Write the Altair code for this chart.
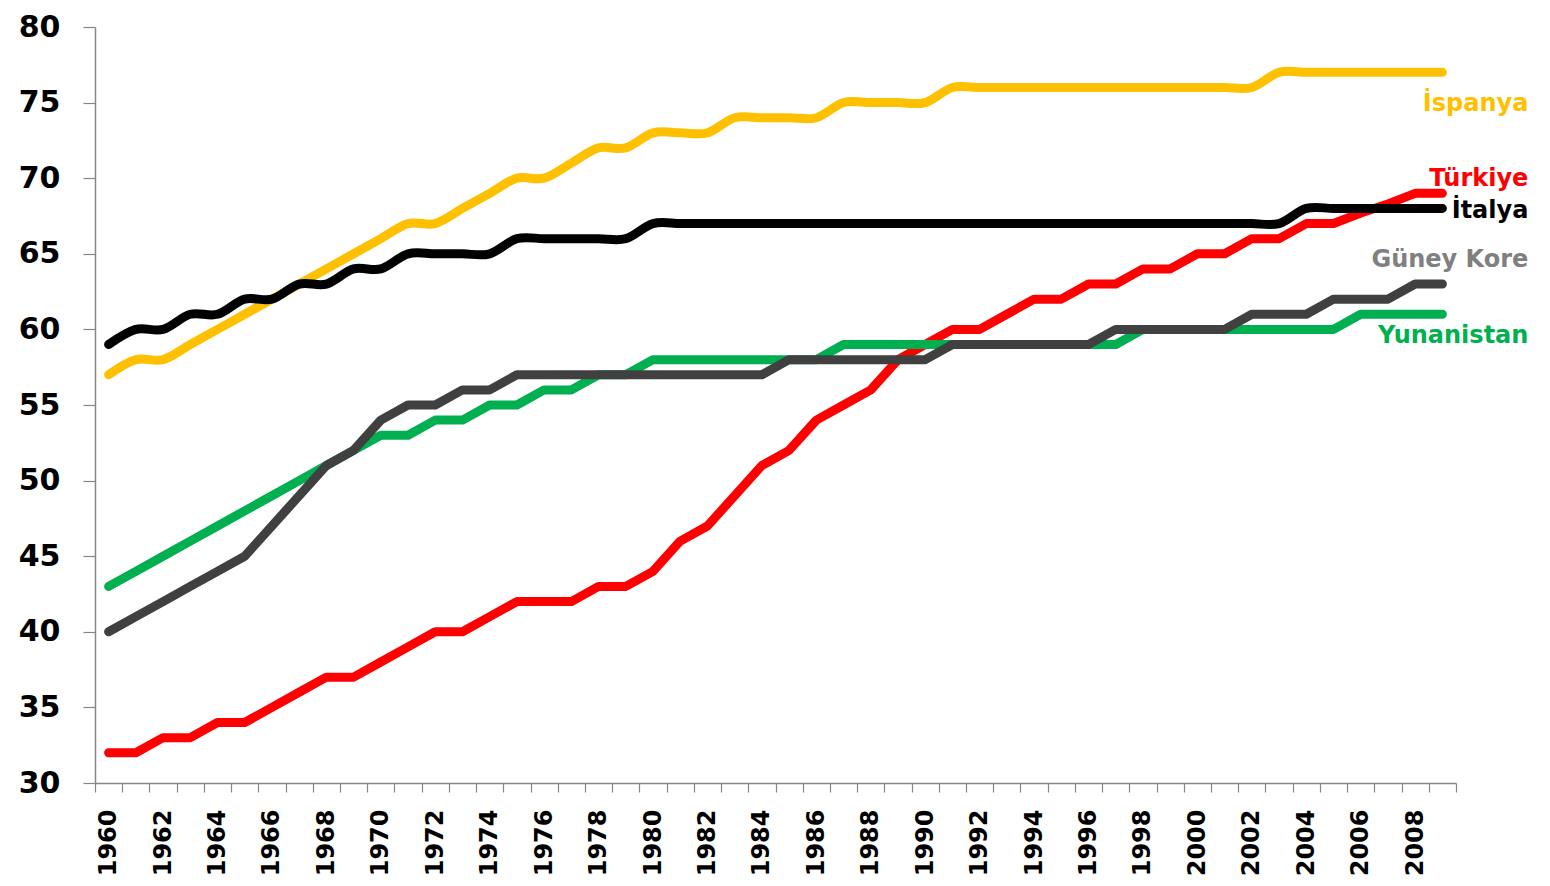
import altair as alt
import pandas as pd

years = list(range(1960, 2010))

turkiye = [32, 32, 33, 33, 34, 34, 35, 36, 37, 37,
           38, 39, 40, 40, 41, 42, 42, 42, 43, 43,
           44, 46, 47, 49, 51, 52, 54, 55, 56, 58,
           59, 60, 60, 61, 62, 62, 63, 63, 64, 64,
           65, 65, 66, 66, 67, 67, 67.7, 68.3, 69, 69]
yunanistan = [43, 44, 45, 46, 47, 48, 49, 50, 51, 52,
              53, 53, 54, 54, 55, 55, 56, 56, 57, 57,
              58, 58, 58, 58, 58, 58, 58, 59, 59, 59,
              59, 59, 59, 59, 59, 59, 59, 59, 60, 60,
              60, 60, 60, 60, 60, 60, 61, 61, 61, 61]
guney_kore = [40, 41, 42, 43, 44, 45, 47, 49, 51, 52,
              54, 55, 55, 56, 56, 57, 57, 57, 57, 57,
              57, 57, 57, 57, 57, 58, 58, 58, 58, 58,
              58, 59, 59, 59, 59, 59, 59, 60, 60, 60,
              60, 60, 61, 61, 61, 62, 62, 62, 63, 63]
ispanya = [57, 58, 58, 59, 60, 61, 62, 63, 64, 65,
           66, 67, 67, 68, 69, 70, 70, 71, 72, 72,
           73, 73, 73, 74, 74, 74, 74, 75, 75, 75,
           75, 76, 76, 76, 76, 76, 76, 76, 76, 76,
           76, 76, 76, 77, 77, 77, 77, 77, 77, 77]
italya = [59, 60, 60, 61, 61, 62, 62, 63, 63, 64,
          64, 65, 65, 65, 65, 66, 66, 66, 66, 66,
          67, 67, 67, 67, 67, 67, 67, 67, 67, 67,
          67, 67, 67, 67, 67, 67, 67, 67, 67, 67,
          67, 67, 67, 67, 68, 68, 68, 68, 68, 68]

series_names = ["Türkiye", "Yunanistan", "Güney Kore", "İspanya", "İtalya"]
series_values = [turkiye, yunanistan, guney_kore, ispanya, italya]
line_colors = ["#FF0000", "#00B050", "#404040", "#FFC000", "#000000"]
label_colors = ["#FF0000", "#00B050", "#808080", "#FFC000", "#000000"]
smooth = [False, False, False, True, True]
label_dy = [-7, 29, -17, 39, 10]

FONT = "DejaVu Sans"

x_enc = alt.X(
    "year:O",
    bandPosition=0.5,
    scale=alt.Scale(type="band", paddingInner=0, paddingOuter=0, domain=years),
    axis=alt.Axis(
        title=None,
        tickBand="extent",
        labelAngle=-90,
        labelAlign="right",
        labelBaseline="middle",
        labelExpr="datum.value % 2 == 0 ? datum.label : ''",
        labelFont=FONT,
        labelFontWeight="bold",
        labelFontSize=24,
        labelColor="#000000",
        labelPadding=17,
        labelOverlap=False,
        tickSize=9,
        tickColor="#868686",
        tickWidth=1.2,
        domainColor="#868686",
        domainWidth=1.5,
        grid=False,
    ),
)
y_enc = alt.Y(
    "value:Q",
    scale=alt.Scale(domain=[30, 80], nice=False, zero=False),
    axis=alt.Axis(
        title=None,
        values=list(range(30, 85, 5)),
        labelFont=FONT,
        labelFontWeight="bold",
        labelFontSize=30,
        labelColor="#000000",
        labelPadding=23,
        tickSize=12,
        tickColor="#868686",
        tickWidth=1.2,
        domainColor="#868686",
        domainWidth=1.5,
        grid=False,
    ),
)

layers = []
for name, vals, col, sm in zip(series_names, series_values, line_colors, smooth):
    df = pd.DataFrame({"year": years, "value": vals, "series": name})
    layers.append(
        alt.Chart(df)
        .mark_line(
            color=col,
            strokeWidth=9,
            strokeCap="round",
            strokeJoin="round",
            interpolate="cardinal" if sm else "linear",
        )
        .encode(x=x_enc, y=y_enc)
    )

for name, vals, col, dy in zip(series_names, series_values, label_colors, label_dy):
    df = pd.DataFrame({"year": [years[-1]], "value": [vals[-1]], "series": [name]})
    layers.append(
        alt.Chart(df)
        .mark_text(
            align="right",
            baseline="alphabetic",
            dx=86,
            dy=dy,
            font=FONT,
            fontWeight="bold",
            fontSize=24,
            color=col,
        )
        .encode(x=x_enc, y=y_enc, text="series:N")
    )

chart = (
    alt.layer(*layers)
    .properties(
        width=1361,
        height=756,
        autosize=alt.AutoSizeParams(type="none"),
        padding={"left": 87, "top": 19, "right": 80, "bottom": 94},
        background="#FFFFFF",
    )
    .configure_view(stroke=None)
)

chart.save("out.html", embed_options={"renderer": "svg", "actions": False})
